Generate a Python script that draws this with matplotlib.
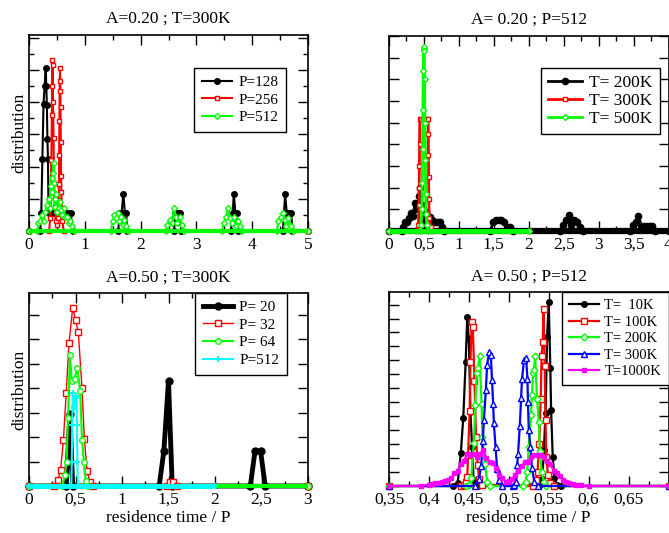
import matplotlib
matplotlib.use('Agg')
import matplotlib.pyplot as plt
from matplotlib.ticker import MultipleLocator, FixedLocator, FixedFormatter

plt.rcParams['font.family'] = ['Liberation Serif', 'DejaVu Serif']

# ---------------- data ----------------
# Panel 1 : A=0.20 ; T=300K
x128 = [0.00, 0.20, 0.22, 0.24, 0.26, 0.28, 0.30, 0.31, 0.32, 0.33, 0.34, 0.35,
        0.40, 0.45, 0.50, 0.55, 0.60, 0.65, 0.70, 0.75, 0.78,
        1.60, 1.62, 1.66, 1.69, 1.72, 1.74, 1.76,
        2.60, 2.62, 2.65, 2.69, 2.71, 2.73,
        3.62, 3.65, 3.67, 3.70, 3.72, 3.74,
        4.55, 4.57, 4.59, 4.62, 4.66, 4.70, 4.72, 5.00]
y128 = [0, 0, 1.1, 4.5, 7.9, 9.0, 10.1, 9.0, 7.8, 5.7, 4.5, 1.1,
        1.1, 1.1, 1.1, 1.1, 1.1, 1.1, 1.1, 1.1, 0,
        0, 1.1, 1.1, 2.3, 1.1, 1.1, 0,
        0, 1.1, 1.1, 1.1, 1.1, 0,
        0, 1.1, 2.3, 1.1, 1.1, 0,
        0, 1.1, 2.3, 1.1, 1.1, 1.1, 0, 0]
x256 = [0.00, 0.36, 0.38, 0.39, 0.40, 0.41, 0.415, 0.42, 0.425, 0.43,
        0.44, 0.45, 0.46, 0.48, 0.50, 0.52, 0.525, 0.53, 0.535, 0.54,
        0.545, 0.55, 0.555, 0.56, 0.565, 0.57, 0.575, 0.58, 0.59, 0.60,
        0.62, 5.00]
y256 = [0, 0, 0.8, 2.2, 4.4, 7.2, 9.0, 10.6, 10.3, 8.0,
        5.8, 3.0, 1.5, 0.6, 0.4, 0.8, 1.4, 1.9, 2.9, 4.7,
        6.8, 8.7, 10.1, 9.3, 7.7, 5.5, 3.4, 2.4, 1.4, 0.6,
        0, 0]
x512 = [0.00, 0.15, 0.17, 0.20, 0.23, 0.26, 0.29, 0.32, 0.35, 0.37,
        0.39, 0.41, 0.42, 0.43, 0.44, 0.45, 0.46, 0.47, 0.49, 0.51,
        0.53, 0.55, 0.57, 0.59, 0.62, 0.65, 0.68, 0.71, 0.74, 0.77, 0.80,
        1.47, 1.50, 1.53, 1.56, 1.59, 1.62, 1.65, 1.68, 1.71, 1.74, 1.77,
        2.45, 2.48, 2.52, 2.56, 2.60, 2.63, 2.66, 2.70, 2.74, 2.77,
        3.46, 3.49, 3.53, 3.57, 3.60, 3.63, 3.67, 3.71, 3.75, 3.79, 3.82,
        4.44, 4.47, 4.51, 4.55, 4.58, 4.61, 4.64, 4.67, 4.70, 4.74, 5.00]
y512 = [0, 0, 0.5, 0.6, 1.0, 0.6, 1.2, 1.6, 2.0, 1.4,
        2.8, 3.3, 2.4, 3.6, 4.2, 3.0, 2.0, 1.5, 2.3, 1.2,
        1.4, 1.8, 1.3, 1.0, 1.4, 0.9, 0.9, 0.5, 0.6, 0.3, 0,
        0, 0.6, 1.0, 0.8, 1.1, 0.6, 0.9, 0.4, 0.7, 0.3, 0,
        0, 0.4, 0.7, 0.5, 1.45, 0.9, 0.5, 0.9, 0.4, 0,
        0, 0.5, 0.9, 1.45, 0.8, 0.5, 0.9, 0.3, 0.6, 0.3, 0,
        0, 0.6, 0.9, 1.1, 0.7, 0.3, 0.8, 0.4, 0.3, 0, 0]

# Panel 2 : A=0.20 ; P=512
x200 = [0.00, 0.18, 0.20, 0.23, 0.26, 0.29, 0.32, 0.35, 0.37, 0.39,
        0.41, 0.43, 0.45, 0.47, 0.50, 0.53, 0.55, 0.58, 0.61, 0.64,
        0.67, 0.70, 0.73, 0.76, 0.79,
        1.45, 1.49, 1.53, 1.57, 1.61, 1.65, 1.69, 1.73, 1.77,
        2.45, 2.49, 2.53, 2.57, 2.61, 2.65, 2.69, 2.73, 2.77,
        3.45, 3.49, 3.53, 3.57, 3.61, 3.65, 3.69, 3.73, 3.77, 3.81, 4.00]
y200 = [0, 0, 0.2, 0.4, 0.4, 0.6, 0.85, 0.7, 1.3, 1.0,
        1.05, 1.6, 2.0, 1.2, 0.5, 0.9, 0.7, 0.66, 0.5, 0.43,
        0.43, 0.43, 0.43, 0.2, 0,
        0, 0.4, 0.5, 0.5, 0.5, 0.4, 0.2, 0.2, 0,
        0, 0.3, 0.5, 0.74, 0.3, 0.5, 0.4, 0.2, 0,
        0, 0.3, 0.4, 0.7, 0.25, 0.25, 0.25, 0.25, 0.25, 0, 0]
x300 = [0.00, 0.40, 0.42, 0.43, 0.432, 0.435, 0.437, 0.44, 0.46, 0.48, 0.50,
        0.52, 0.54, 0.56, 0.562, 0.565, 0.567, 0.57, 0.575, 0.60, 0.62, 2.00]
y300 = [0, 0, 0.3, 1.2, 2.0, 3.0, 4.0, 5.15, 5.15, 5.15, 5.15,
        5.15, 5.15, 5.15, 4.5, 3.5, 2.5, 1.5, 0.6, 0.2, 0, 0]
x500 = [0.00, 0.44, 0.46, 0.47, 0.475, 0.48, 0.485, 0.49, 0.495, 0.50,
        0.505, 0.51, 0.515, 0.52, 0.525, 0.53, 0.54, 0.56, 2.00]
y500 = [0, 0, 0.3, 1.0, 2.2, 3.8, 5.6, 7.4, 8.4, 8.47,
        8.3, 7.0, 5.0, 3.3, 1.7, 0.8, 0.3, 0, 0]

# Panel 3 : A=0.50 ; T=300K
x20 = [0.00, 0.40, 0.44, 0.47, 1.40, 1.45, 1.50, 1.54, 2.38, 2.43, 2.49, 2.54, 3.00]
y20 = [0, 0, 2.95, 0, 0, 1.43, 4.3, 0, 0, 1.43, 1.43, 0, 0]
x32 = [0.00, 0.27, 0.31, 0.34, 0.37, 0.40, 0.43, 0.47, 0.50, 0.53,
       0.57, 0.595, 0.625, 0.655, 0.69, 1.48, 1.52, 1.55, 1.59, 3.00]
y32 = [0, 0, 0.23, 0.67, 1.87, 3.79, 5.84, 7.3, 6.8, 6.3,
       4.0, 1.94, 0.6, 0.15, 0, 0, 0.15, 0.15, 0, 0]
x64 = [0.00, 0.36, 0.385, 0.405, 0.42, 0.44, 0.46, 0.49, 0.52, 0.55,
       0.57, 0.59, 0.61, 0.63, 3.00]
y64 = [0, 0, 0.44, 1.0, 2.8, 5.35, 4.3, 4.4, 4.85, 3.9,
       1.9, 1.0, 0.2, 0, 0]
x512c = [0.00, 0.455, 0.46, 0.465, 0.47, 0.48, 0.49, 0.50, 0.51, 0.515, 0.52, 0.525, 2.00]
y512c = [0, 0, 1.0, 2.5, 3.8, 3.2, 3.4, 3.6, 3.7, 2.5, 1.0, 0, 0]

# Panel 4 : A=0.50 ; P=512
x10 = [0.350, 0.430, 0.436, 0.440, 0.443, 0.446, 0.448, 0.450, 0.452, 0.454,
       0.456, 0.458, 0.462, 0.538, 0.540, 0.542, 0.544, 0.546, 0.548, 0.550,
       0.552, 0.553, 0.555, 0.557, 0.560, 0.565, 0.700]
y10 = [0, 0, 0.2, 2.4, 4.9, 8.9, 12.1, 10.5, 5.3, 2.8,
       0.4, 0.1, 0, 0, 0.3, 0.5, 2.6, 5.2, 10.7, 13.2,
       8.45, 5.45, 2.1, 0.6, 0.1, 0, 0]
x100 = [0.350, 0.440, 0.444, 0.446, 0.448, 0.449, 0.451, 0.452, 0.4535, 0.455,
        0.457, 0.459, 0.461, 0.463, 0.466, 0.530, 0.534, 0.536, 0.538, 0.540,
        0.541, 0.5425, 0.5435, 0.545, 0.546, 0.547, 0.549, 0.552, 0.556, 0.700]
y100 = [0, 0, 0.1, 0.3, 0.65, 2.2, 5.4, 8.9, 11.75, 11.4,
        7.5, 3.5, 1.5, 0.5, 0.1, 0, 0.4, 1.0, 3.0, 6.2,
        9.3, 10.3, 12.7, 8.6, 4.7, 2.1, 0.8, 0.2, 0, 0]
x200b = [0.350, 0.446, 0.450, 0.453, 0.4563, 0.458, 0.460, 0.4615, 0.4634, 0.4659,
         0.467, 0.470, 0.473, 0.476, 0.518, 0.521, 0.523, 0.525, 0.5279, 0.529,
         0.5304, 0.5313, 0.533, 0.5354, 0.5375, 0.539, 0.541, 0.544, 0.547, 0.700]
y200b = [0, 0, 0.1, 0.6, 3.1, 5.8, 8.1, 8.45, 9.33, 5.9,
         3.5, 1.6, 0.3, 0, 0, 0.3, 1.0, 2.8, 5.1, 6.5,
         8.1, 8.3, 9.3, 6.2, 4.6, 2.5, 1.0, 0.3, 0, 0]
x300b = [0.350, 0.458, 0.4625, 0.4654, 0.4675, 0.4688, 0.4713, 0.4729, 0.4754, 0.4775,
         0.479, 0.4804, 0.4813, 0.4834, 0.4854, 0.488, 0.491, 0.505, 0.507, 0.509,
         0.5105, 0.5116, 0.5138, 0.5154, 0.5166, 0.519, 0.5216, 0.5234, 0.524, 0.525,
         0.5271, 0.529, 0.532, 0.536, 0.700]
y300b = [0, 0, 0.5, 1.4, 3.2, 4.7, 6.9, 8.7, 9.6, 9.4,
         7.6, 5.9, 4.5, 2.8, 1.2, 0.4, 0, 0, 0.1, 0.3,
         1.5, 2.3, 4.3, 6.3, 7.7, 9.0, 9.17, 7.7, 6.0, 4.0,
         2.8, 1.3, 0.3, 0, 0]
x1000 = [0.350, 0.390, 0.400, 0.404, 0.408, 0.412, 0.416, 0.420, 0.424, 0.428,
         0.432, 0.436, 0.440, 0.444, 0.448, 0.452, 0.456, 0.460, 0.464, 0.468,
         0.472, 0.476, 0.480, 0.484, 0.488, 0.492, 0.496, 0.500, 0.504, 0.508,
         0.512, 0.516, 0.520, 0.524, 0.528, 0.532, 0.536, 0.540, 0.544, 0.548,
         0.552, 0.556, 0.560, 0.564, 0.568, 0.572, 0.576, 0.580, 0.584, 0.590,
         0.600, 0.700]
y1000 = [0, 0, 0.1, 0.15, 0.2, 0.25, 0.3, 0.35, 0.45, 0.55,
         0.9, 1.1, 1.6, 1.8, 2.3, 2.2, 2.3, 2.1, 2.3, 2.6,
         2.0, 1.7, 1.65, 1.3, 0.8, 0.6, 0.3, 0.35, 0.5, 0.8,
         1.1, 1.4, 1.7, 1.7, 2.1, 2.2, 2.2, 2.2, 2.1, 1.8,
         1.6, 1.1, 0.9, 0.75, 0.4, 0.3, 0.2, 0.15, 0.1, 0.05,
         0, 0]

# titles / labels / ticks
titles = ['A=0.20 ; T=300K', 'A= 0.20 ; P=512', 'A=0.50 ; T=300K', 'A= 0.50 ; P=512']
ylabel = 'distribution'
xlabel = 'residence time / P'
xt1 = [0, 1, 2, 3, 4, 5]
xl1 = ['0', '1', '2', '3', '4', '5']
xt2 = [0, 0.5, 1, 1.5, 2, 2.5, 3, 3.5, 4]
xl2 = ['0', '0,5', '1', '1,5', '2', '2,5', '3', '3,5', '4']
xt3 = [0, 0.5, 1, 1.5, 2, 2.5, 3]
xl3 = ['0', '0,5', '1', '1,5', '2', '2,5', '3']
xt4 = [0.35, 0.40, 0.45, 0.50, 0.55, 0.60, 0.65]
xl4 = ['0,35', '0,4', '0,45', '0,5', '0,55', '0,6', '0,65']

GREEN = '#00ff00'
CYAN = '#00ffff'
MAG = '#ff00ff'

# ---------------- figure ----------------
W, H = 669, 533
fig = plt.figure(figsize=(W / 100, H / 100), dpi=100)


def add_ax(l, t, r, b):
    return fig.add_axes([l / W, 1 - b / H, (r - l) / W, (b - t) / H])


ax1 = add_ax(29, 35, 308, 231)
ax2 = add_ax(389, 36, 668.5, 231)
ax3 = add_ax(29, 293, 308, 486)
ax4 = add_ax(389, 292, 668.5, 486)


def series(ax, x, y, color, marker, ms, lw, mfc, label, band=None, z=2, mew=1.0):
    ax.plot(x, y, color=color, marker=marker, ms=ms, lw=lw, mfc=mfc, mec=color,
            mew=mew, label=label, clip_on=False, zorder=z)
    if band:
        ax.plot([min(x), max(x)], [0, 0], color=color, lw=band,
                solid_capstyle='butt', clip_on=False, zorder=z)


def style(ax, xlim, ylim, xt, xl, xminor, ymaj, ymin=None):
    ax.set_xlim(xlim)
    ax.set_ylim(ylim)
    ax.xaxis.set_major_locator(FixedLocator(xt))
    ax.xaxis.set_major_formatter(FixedFormatter(xl))
    ax.xaxis.set_minor_locator(MultipleLocator(xminor))
    ax.yaxis.set_major_locator(MultipleLocator(ymaj))
    if ymin:
        ax.yaxis.set_minor_locator(MultipleLocator(ymin))
    ax.tick_params(which='both', direction='in', top=True, right=True,
                   labelleft=False, width=1)
    ax.tick_params(which='major', length=7.5, labelsize=12.5, pad=4)
    ax.tick_params(which='minor', length=3.5)
    for s in ax.spines.values():
        s.set_linewidth(1.2)
        s.set_zorder(1)


def legend(ax, anchor, fs, spacing, bpad=0.5):
    lg = ax.legend(loc='upper right', bbox_to_anchor=anchor, borderaxespad=0,
                   fontsize=fs, frameon=True, fancybox=False, edgecolor='k',
                   framealpha=1, handlelength=2.0, labelspacing=spacing,
                   borderpad=bpad, handletextpad=0.4)
    lg.get_frame().set_linewidth(1.0)
    lg.set_zorder(10)


# Panel 1
series(ax1, x128, y128, 'k', 'o', 4, 1.5, 'k', 'P=128')
series(ax1, x256, y256, 'r', 's', 3.5, 1.5, 'white', 'P=256')
series(ax1, x512, y512, GREEN, 'D', 3, 1.5, 'white', 'P=512', band=3)
style(ax1, (0, 5), (0, 12.17), xt1, xl1, 0.5, 2, 1)
ax1.set_title(titles[0], fontsize=12.5, pad=9)
ax1.set_ylabel(ylabel, fontsize=12.5, labelpad=1)
legend(ax1, (0.921, 0.832), 11, 0.25)

# Panel 2
series(ax2, x200, y200, 'k', 'o', 4.5, 2, 'k', 'T= 200K', band=4.5)
series(ax2, x300, y300, 'r', 's', 3.5, 2, 'white', 'T= 300K')
series(ax2, x500, y500, GREEN, 'D', 3, 2, 'white', 'T= 500K', band=3.5)
style(ax2, (0, 4), (0, 9), xt2, xl2, 0.25, 1)
ax2.set_title(titles[1], fontsize=12.5, pad=9)
legend(ax2, (0.968, 0.836), 12.5, 0.1, bpad=0.4)

# Panel 3
series(ax3, x20, y20, 'k', 'o', 5, 3.5, 'k', 'P= 20', band=3)
series(ax3, x32, y32, 'r', 's', 4, 1.0, 'white', 'P= 32')
series(ax3, x64, y64, GREEN, 'o', 4, 1.5, 'white', 'P= 64', band=3)
series(ax3, x512c, y512c, CYAN, '+', 5, 1.5, CYAN, 'P=512', band=3.5, mew=1.5)
style(ax3, (0, 3), (0, 7.9), xt3, xl3, 0.25, 1)
ax3.set_title(titles[2], fontsize=12.5, pad=8)
ax3.set_ylabel(ylabel, fontsize=12.5, labelpad=1)
ax3.set_xlabel(xlabel, fontsize=12.5, labelpad=2)
legend(ax3, (0.925, 1.0), 11, 0.25)

# Panel 4
series(ax4, x10, y10, 'k', 'o', 4, 1.6, 'k', 'T=  10K')
series(ax4, x100, y100, 'r', 's', 4, 1.6, 'white', 'T= 100K')
series(ax4, x200b, y200b, GREEN, 'D', 3.5, 1.6, 'white', 'T= 200K')
series(ax4, x300b, y300b, 'b', '^', 4, 1.6, 'white', 'T= 300K')
series(ax4, x1000, y1000, MAG, 's', 3, 1.6, MAG, 'T=1000K')
style(ax4, (0.35, 0.70), (0, 13.9), xt4, xl4, 0.025, 1)
ax4.set_title(titles[3], fontsize=12.5, pad=8)
ax4.set_xlabel(xlabel, fontsize=12.5, labelpad=2)
legend(ax4, (1.0, 1.0), 10.5, 0.22)

fig.savefig('out.png', dpi=100)
